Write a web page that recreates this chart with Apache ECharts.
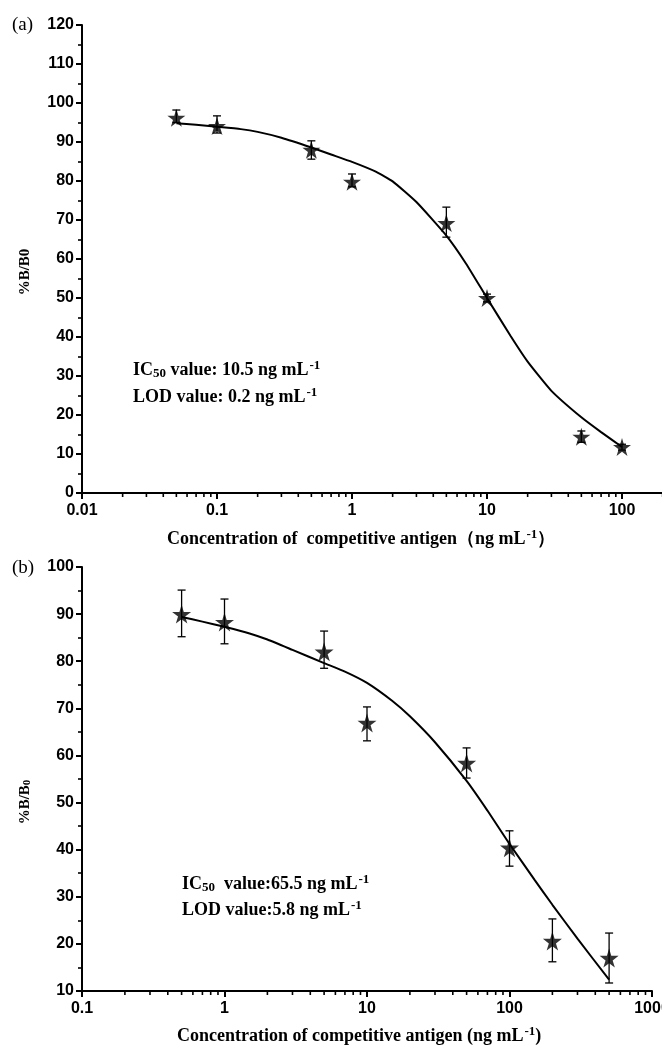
<!DOCTYPE html>
<html>
<head>
<meta charset="utf-8">
<script src="https://cdn.jsdelivr.net/npm/echarts@6/dist/echarts.min.js"></script>
<style>
  html, body { margin: 0; padding: 0; background: #fff; }
  #chart { width: 662px; height: 1046px; }
</style>
</head>
<body>
<div id="chart"></div>
<script>
// panel (a): measured points
const concA = [0.05, 0.1, 0.5, 1, 5, 10, 50, 100];
const bA = [96.2, 94.1, 88.0, 79.8, 69.2, 50.0, 14.4, 11.8];
const hiA = [98.2, 96.7, 90.3, 81.8, 73.3, 51.0, 15.9, 12.5];
const loA = [95.0, 92.3, 85.6, 78.5, 65.6, 49.0, 13.0, 11.0];
// panel (a): fitted curve
const fitXA = [0.05, 0.07, 0.1, 0.15, 0.2, 0.3, 0.5, 0.7, 1, 1.5, 2, 3, 5, 7, 10, 15, 20, 30, 50, 70, 100];
const fitYA = [94.8, 94.4, 93.9, 93.3, 92.6, 91.1, 88.6, 86.8, 84.9, 82.4, 79.9, 74.6, 66.0, 58.8, 50.0, 40.2, 33.7, 26.2, 19.4, 15.6, 11.8];

// panel (b)
const concB = [0.5, 1, 5, 10, 50, 100, 200, 500];
const bB = [90.0, 88.3, 82.0, 66.9, 58.4, 40.4, 20.6, 17.0];
const hiB = [95.1, 93.2, 86.4, 70.3, 61.6, 44.0, 25.3, 22.3];
const loB = [85.2, 83.7, 78.5, 63.1, 55.2, 36.5, 16.2, 11.7];
const fitXB = [0.5, 0.7, 1, 1.5, 2, 3, 5, 7, 10, 15, 20, 30, 50, 70, 100, 150, 200, 300, 500];
const fitYB = [89.4, 88.4, 87.3, 85.9, 84.6, 82.4, 79.6, 77.8, 75.4, 71.6, 68.3, 62.8, 54.6, 48.3, 41.2, 33.6, 28.3, 21.1, 12.4];

const STAR = "path://M50,0 L61,35 L98,35 L68,57 L79,91 L50,70 L21,91 L32,57 L2,35 L39,35 Z";
const SANS = "Liberation Sans";
const SERIF = "Liberation Serif";

// log minor tick positions (2..9 per decade)
function minorTicks(fromExp, toExp, yMin) {
  const out = [];
  for (let e = fromExp; e < toExp; e++) {
    for (let m = 2; m <= 9; m++) out.push([m * Math.pow(10, e), yMin]);
  }
  return out;
}

function pair(xs, ys) { return xs.map((x, i) => [x, ys[i]]); }
function errData(xs, hi, lo) { return xs.map((x, i) => [x, hi[i], lo[i]]); }

function renderErr(params, api) {
  const x = api.value(0);
  const top = api.coord([x, api.value(1)]);
  const bot = api.coord([x, api.value(2)]);
  const w = 4;
  const st = { stroke: "#000", lineWidth: 1.3 };
  return {
    type: "group",
    children: [
      { type: "line", shape: { x1: top[0], y1: top[1], x2: bot[0], y2: bot[1] }, style: st },
      { type: "line", shape: { x1: top[0] - w, y1: top[1], x2: top[0] + w, y2: top[1] }, style: st },
      { type: "line", shape: { x1: bot[0] - w, y1: bot[1], x2: bot[0] + w, y2: bot[1] }, style: st },
    ],
  };
}

function renderMinor(params, api) {
  const p = api.coord([api.value(0), api.value(1)]);
  return {
    type: "line",
    shape: { x1: p[0], y1: p[1], x2: p[0], y2: p[1] + 4 },
    style: { stroke: "#000", lineWidth: 1.6 },
  };
}

const axisLine = { show: true, onZero: false, lineStyle: { color: "#000", width: 2 } };
const tickLabel = { color: "#000", fontFamily: SANS, fontWeight: "bold", fontSize: 16 };
const logLabel = Object.assign({ margin: 10, formatter: (v) => String(v) }, tickLabel);

const chartDom = document.getElementById("chart");
const myChart = echarts.init(chartDom);

const richBase = {
  b: { fontFamily: SERIF, fontWeight: "bold", fontSize: 18, color: "#000" },
  s: { fontFamily: SERIF, fontWeight: "bold", fontSize: 13, color: "#000", verticalAlign: "bottom", padding: [4, 0, 0, 0] },
  p: { fontFamily: SERIF, fontWeight: "bold", fontSize: 13, color: "#000", verticalAlign: "top", padding: [0, 0, 8, 1] },
};

function richText(text, x, y) {
  return {
    type: "text",
    x: x,
    y: y,
    style: { text: text, rich: richBase, verticalAlign: "middle", fill: "#000" },
  };
}

const options = {
  animation: false,
  backgroundColor: "#fff",
  grid: [
    { left: 82, top: 25, height: 468, width: 675, outerBoundsMode: "none", containLabel: false },
    { left: 82, top: 567, height: 424, width: 570, outerBoundsMode: "none", containLabel: false },
  ],
  xAxis: [
    {
      gridIndex: 0, type: "log", logBase: 10, min: 0.01, max: 1000,
      axisLine: axisLine,
      axisTick: { show: true, length: 6, lineStyle: { width: 2, color: "#000" } },
      axisLabel: logLabel,
      splitLine: { show: false },
    },
    {
      gridIndex: 1, type: "log", logBase: 10, min: 0.1, max: 1000,
      axisLine: axisLine,
      axisTick: { show: true, length: 6, lineStyle: { width: 2, color: "#000" } },
      axisLabel: logLabel,
      splitLine: { show: false },
    },
  ],
  yAxis: [
    {
      gridIndex: 0, type: "value", min: 0, max: 120, interval: 10,
      axisLine: axisLine,
      axisTick: { show: true, length: 6, lineStyle: { width: 2, color: "#000" } },
      minorTick: { show: true, splitNumber: 2, length: 4, lineStyle: { width: 1.6, color: "#000" } },
      axisLabel: Object.assign({ margin: 8 }, tickLabel),
      splitLine: { show: false },
    },
    {
      gridIndex: 1, type: "value", min: 10, max: 100, interval: 10,
      axisLine: axisLine,
      axisTick: { show: true, length: 6, lineStyle: { width: 2, color: "#000" } },
      minorTick: { show: true, splitNumber: 2, length: 4, lineStyle: { width: 1.6, color: "#000" } },
      axisLabel: Object.assign({ margin: 8 }, tickLabel),
      splitLine: { show: false },
    },
  ],
  series: [
    {
      type: "custom", xAxisIndex: 0, yAxisIndex: 0, clip: false, silent: true,
      renderItem: renderMinor, data: minorTicks(-2, 3, 0),
    },
    {
      type: "custom", xAxisIndex: 1, yAxisIndex: 1, clip: false, silent: true,
      renderItem: renderMinor, data: minorTicks(-1, 3, 10),
    },
    {
      type: "line", xAxisIndex: 0, yAxisIndex: 0, data: pair(fitXA, fitYA),
      smooth: 0.15, showSymbol: false, lineStyle: { color: "#000", width: 2 },
    },
    {
      type: "line", xAxisIndex: 1, yAxisIndex: 1, data: pair(fitXB, fitYB),
      smooth: 0.15, showSymbol: false, lineStyle: { color: "#000", width: 2 },
    },
    {
      type: "custom", xAxisIndex: 0, yAxisIndex: 0, renderItem: renderErr,
      data: errData(concA, hiA, loA), z: 3,
    },
    {
      type: "custom", xAxisIndex: 1, yAxisIndex: 1, renderItem: renderErr,
      data: errData(concB, hiB, loB), z: 3,
    },
    {
      type: "scatter", xAxisIndex: 0, yAxisIndex: 0, data: pair(concA, bA),
      symbol: STAR, symbolSize: 18, itemStyle: { color: "#000" }, z: 4,
    },
    {
      type: "scatter", xAxisIndex: 1, yAxisIndex: 1, data: pair(concB, bB),
      symbol: STAR, symbolSize: 19, itemStyle: { color: "#000" }, z: 4,
    },
  ],
  graphic: [
    { type: "text", x: 12, y: 25, style: { text: "(a)", font: "19px " + SERIF, fill: "#000", verticalAlign: "middle" } },
    { type: "text", x: 12, y: 568, style: { text: "(b)", font: "19px " + SERIF, fill: "#000", verticalAlign: "middle" } },
    {
      type: "text", x: 25, y: 272, rotation: Math.PI / 2,
      style: { text: "%B/B0", font: "bold 15px " + SERIF, fill: "#000", align: "center", verticalAlign: "middle" },
    },
    {
      type: "text", x: 25, y: 802, rotation: Math.PI / 2,
      style: {
        text: "{b|%B/B}{s|0}", align: "center", verticalAlign: "middle",
        rich: {
          b: { fontFamily: SERIF, fontWeight: "bold", fontSize: 15, color: "#000" },
          s: { fontFamily: SERIF, fontWeight: "bold", fontSize: 11, color: "#000", verticalAlign: "bottom" },
        },
      },
    },
    richText("{b|IC}{s|50}{b| value: 10.5 ng mL}{p|-1}", 133, 370),
    richText("{b|LOD value: 0.2 ng mL}{p|-1}", 133, 397),
    richText("{b|IC}{s|50}{b|  value:65.5 ng mL}{p|-1}", 182, 884),
    richText("{b|LOD value:5.8 ng mL}{p|-1}", 182, 910),
    richText("{b|Concentration of  competitive antigen（ng mL}{p|-1}{b|）}", 167, 539),
    richText("{b|Concentration of competitive antigen (ng mL}{p|-1}{b|)}", 177, 1036),
  ],
};

myChart.setOption(options);
</script>
</body>
</html>
